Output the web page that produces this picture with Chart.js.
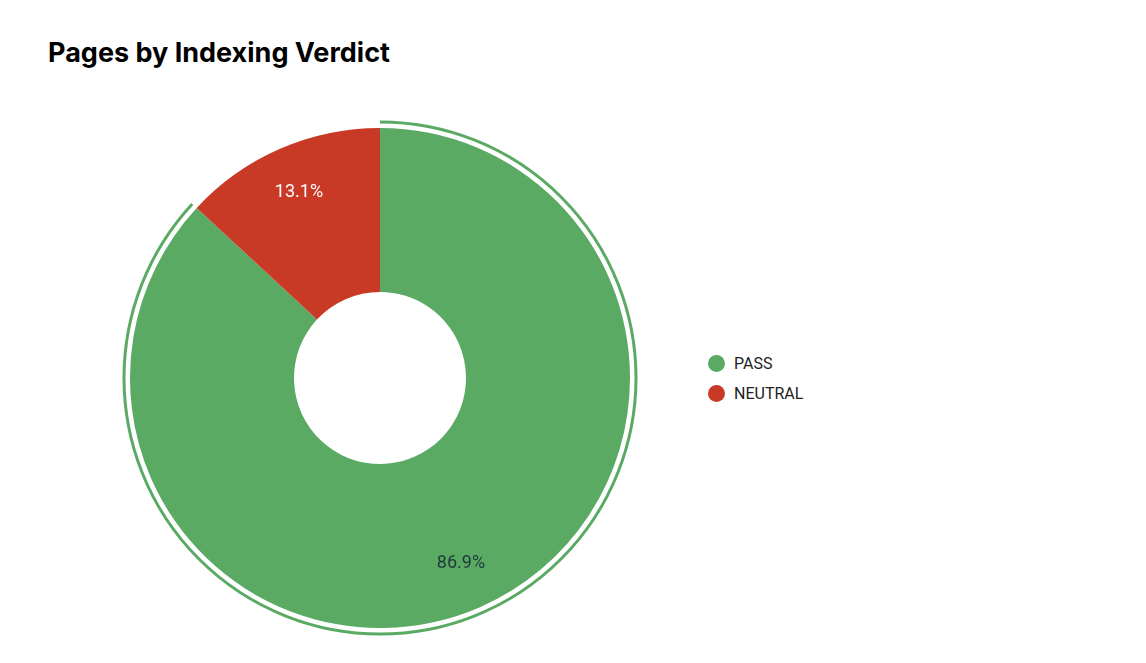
<!DOCTYPE html>
<html><head><meta charset="utf-8">
<script src="https://cdn.jsdelivr.net/npm/chart.js@4/dist/chart.umd.min.js"></script>
<style>
body{margin:0;width:1146px;height:663px;background:#fff;position:relative;font-family:Roboto,sans-serif;overflow:hidden}
#title{position:absolute;left:48px;top:36px;font-family:Inter,sans-serif;font-weight:700;font-size:27px;color:#000}
#wrap{position:absolute;left:120px;top:118px;width:520px;height:520px}
#legend{position:absolute;left:708px;top:348px;font-size:16px;color:#222}
.item{display:flex;align-items:center;height:30px}
.dot{width:17px;height:17px;border-radius:50%;margin-right:9px}
</style></head><body>
<div id="title">Pages by Indexing Verdict</div>
<div id="wrap"><canvas id="c"></canvas></div>
<div id="legend"></div>
<script>
const categories=["PASS","NEUTRAL"];
const values=[86.9,13.1];
const colors=["#5aaa64","#c93a26"];
const labelColors=["#1e3a3a","#ffffff"];
const lg=document.getElementById('legend');
categories.forEach((c,i)=>{lg.innerHTML+=`<div class="item"><span class="dot" style="background:${colors[i]}"></span>${c}</div>`;});
const plugin={id:'extras',afterDatasetsDraw(chart){
 const ctx=chart.ctx;const meta=chart.getDatasetMeta(0);
 const a=meta.data[0];
 ctx.save();ctx.beginPath();ctx.arc(a.x,a.y,a.outerRadius+6,a.startAngle,a.endAngle);
 ctx.strokeStyle=colors[0];ctx.lineWidth=3;ctx.stroke();
 meta.data.forEach((el,i)=>{const m=(el.startAngle+el.endAngle)/2;const r=el.outerRadius*0.81;
  ctx.fillStyle=labelColors[i];ctx.font='18px Roboto';ctx.textAlign='center';ctx.textBaseline='middle';
  ctx.fillText(values[i].toFixed(1)+'%',el.x+Math.cos(m)*r,el.y+Math.sin(m)*r);});
 ctx.restore();}};
new Chart(document.getElementById('c'),{type:'doughnut',
 data:{labels:categories,datasets:[{data:values,backgroundColor:colors,borderWidth:0}]},
 options:{responsive:true,maintainAspectRatio:false,animation:false,cutout:'34.4%',
  layout:{padding:10},plugins:{legend:{display:false},tooltip:{enabled:false}}},
 plugins:[plugin]});
</script></body></html>
